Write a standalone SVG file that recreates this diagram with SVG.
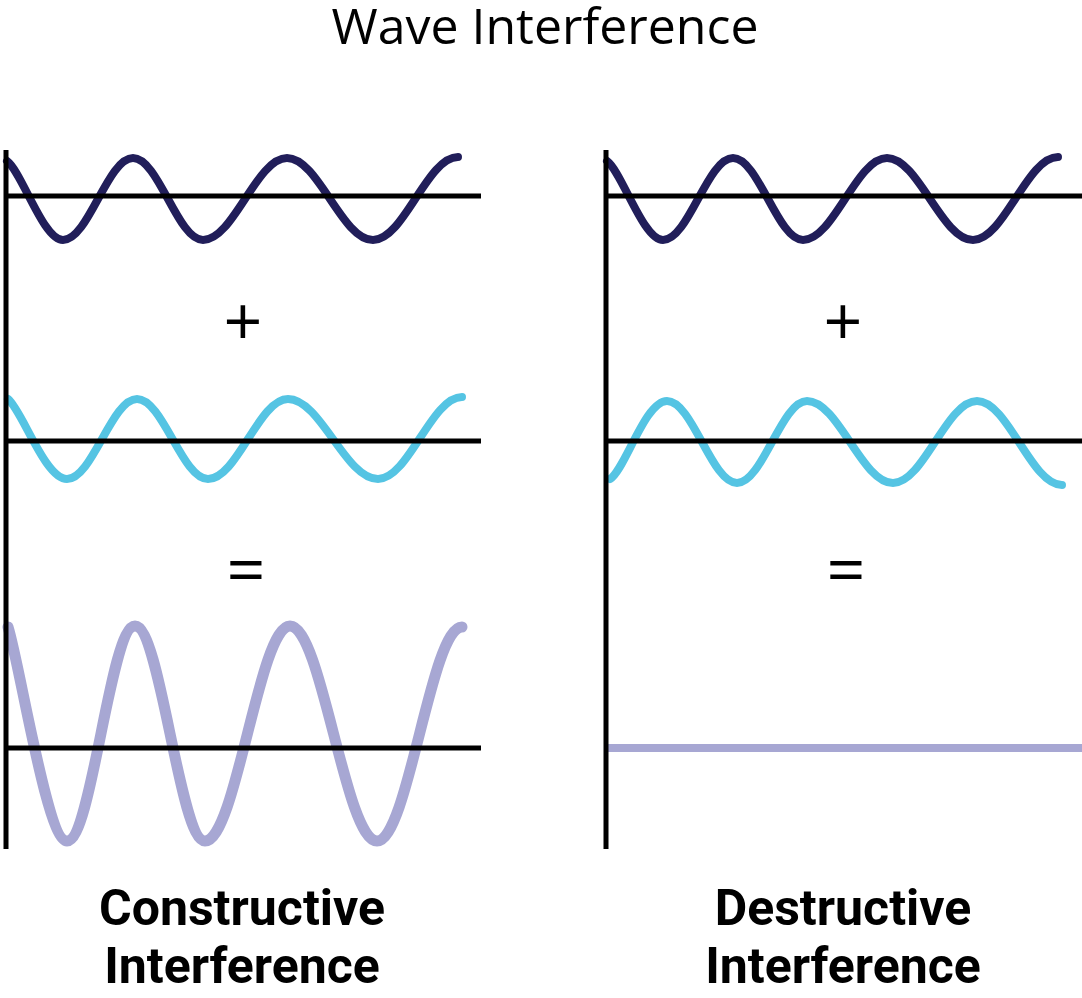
<svg xmlns="http://www.w3.org/2000/svg" width="1082" height="998" viewBox="0 0 1082 998">
<style>
.bg{fill:#ffffff}
.wave{fill:none;stroke-linecap:round;stroke-linejoin:round}
.navy{stroke:#211e5a;stroke-width:8}
.cyan{stroke:#55c4e3;stroke-width:8}
.lav{stroke:#a7a7d3;stroke-width:11}
.axis{stroke:#000000;stroke-width:5;fill:none}
.title{font-family:"Open Sans","Noto Sans",sans-serif;font-size:50px;fill:#000}
.op{font-family:"Open Sans","Noto Sans",sans-serif;font-size:68px;fill:#000;text-anchor:middle}
.label{font-family:Roboto,"Liberation Sans",sans-serif;font-weight:700;font-size:50px;fill:#000;text-anchor:middle}
</style>
<rect class="bg" x="0" y="0" width="1082" height="998"/>
<text id="title" class="title" x="545" y="44" text-anchor="middle">Wave Interference</text>

<g id="constructive">
  <g id="c-wave1">
    <path class="wave navy" d="M7,161 C22,172 43,240 63,240 C88.4,240 107.6,158 133,158 C158.4,158 177.6,240 203,240 C233.5,240 256.5,158 287,158 C318.3,158 341.7,240 373,240 C403.9,240 427.1,157 458,157"/>
    <line class="axis" x1="6" y1="196" x2="481" y2="196"/>
  </g>
  <text id="c-plus" class="op" x="243" y="346">+</text>
  <g id="c-wave2">
    <path class="wave cyan" d="M8,399 C22,410 45,479 67,479 C92.4,479 111.6,399 137,399 C162.8,399 182.2,479 208,479 C237.1,479 258.9,399 288,399 C320.7,399 345.3,479 378,479 C408.5,479 431.5,397 462,397"/>
    <line class="axis" x1="6" y1="441" x2="481" y2="441"/>
  </g>
  <text id="c-equals" class="op" x="246" y="594">=</text>
  <g id="c-result">
    <path class="wave lav" d="M8,627 C20,665 47,841 67,841 C91.7,841 110.3,626 135,626 C160.4,626 179.6,841 205,841 C235.9,841 259.1,626 290,626 C321.6,626 345.4,841 377,841 C407.9,841 431.1,627 462,627"/>
    <line class="axis" x1="6" y1="748" x2="481" y2="748"/>
  </g>
  <line id="c-axis" class="axis" x1="6" y1="150" x2="6" y2="849"/>
  <text id="c-label" class="label" x="242"><tspan x="242" y="925">Constructive</tspan><tspan x="242" y="983">Interference</tspan></text>
</g>

<g id="destructive">
  <g id="d-wave1">
    <path class="wave navy" d="M607,161 C622,172 643,240 663,240 C688.4,240 707.6,158 733,158 C758.4,158 777.6,240 803,240 C833.5,240 856.5,158 887,158 C918.3,158 941.7,240 973,240 C1003.9,240 1027.1,157 1058,157"/>
    <line class="axis" x1="606" y1="196" x2="1082" y2="196"/>
  </g>
  <text id="d-plus" class="op" x="843" y="346">+</text>
  <g id="d-wave2">
    <path class="wave cyan" d="M610,479 C625,470 645,401 667,401 C692.4,401 711.6,483 737,483 C762.4,483 781.6,401 807,401 C838.3,401 861.7,483 893,483 C923.5,483 946.5,401 977,401 C1007.9,401 1031.1,485 1062,485"/>
    <line class="axis" x1="606" y1="441" x2="1082" y2="441"/>
  </g>
  <text id="d-equals" class="op" x="846" y="594">=</text>
  <g id="d-result">
    <line x1="608" y1="748" x2="1082" y2="748" stroke="#a7a7d3" stroke-width="8"/>
  </g>
  <line id="d-axis" class="axis" x1="606" y1="150" x2="606" y2="849"/>
  <text id="d-label" class="label" x="843"><tspan x="843" y="925">Destructive</tspan><tspan x="843" y="983">Interference</tspan></text>
</g>
</svg>
